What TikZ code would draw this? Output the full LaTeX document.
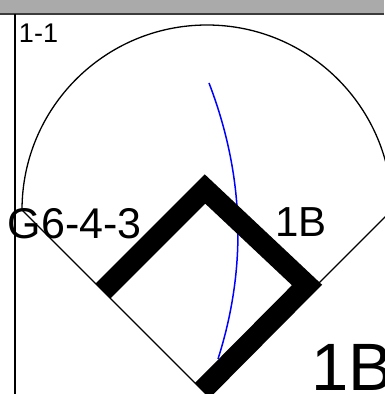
\documentclass[tikz,border=0pt]{standalone}
\usepackage{fontspec}
\setmainfont{Liberation Sans}
\begin{document}
\begin{tikzpicture}[x=1pt,y=1pt,
  thin line/.style={draw=black,line width=1.3pt},
  runner/.style={draw=black,line width=21pt,line join=miter,line cap=butt},
  hitpath/.style={draw=blue,line width=1.5pt},
  lbl/.style={inner sep=0pt,outer sep=0pt,anchor=base west,text=black}]
\useasboundingbox (0,0) rectangle (384,394);
\fill[white] (0,0) rectangle (384,394);
% header band
\fill[fill={rgb,255:red,170;green,170;blue,170}] (0,381) rectangle (384,394);
\draw[line width=2pt,draw={rgb,255:red,60;green,60;blue,60}] (0,380.3) -- (384,380.3);
\draw[line width=1.7pt] (15,380) -- (15,0);
% field
\coordinate (home) at (207,-1);
\coordinate (lf) at (22,184);
\coordinate (rf) at (392,184);
\draw[thin line] (lf) -- (home) -- (rf);
\draw[thin line] (lf) arc[start angle=180,end angle=0,radius=185];
% hit path
\coordinate (h0) at (209,311);
\coordinate (h1) at (244.3,219);
\coordinate (h2) at (247.3,127);
\coordinate (h3) at (218,35);
\draw[hitpath] (h0) .. controls (h1) and (h2) .. (h3);
% runner path
\coordinate (third) at (103,103);
\coordinate (second) at (205,205);
\coordinate (first) at (307,109);
\coordinate (homeend) at (202.4,3.6);
\draw[runner] (third) -- (second) -- (first) -- (homeend);
% labels
\node[lbl,font=\fontsize{27}{27}\selectfont] (count) at (19,351) {1-1};
\node[lbl,font=\fontsize{43}{43}\selectfont] (play) at (8,155) {G6-4-3};
\node[lbl,font=\fontsize{42}{42}\selectfont] (reach) at (275,157) {1B};
\node[lbl,font=\fontsize{67}{67}\selectfont] (result) at (311,4) {1B};
\end{tikzpicture}
\end{document}
